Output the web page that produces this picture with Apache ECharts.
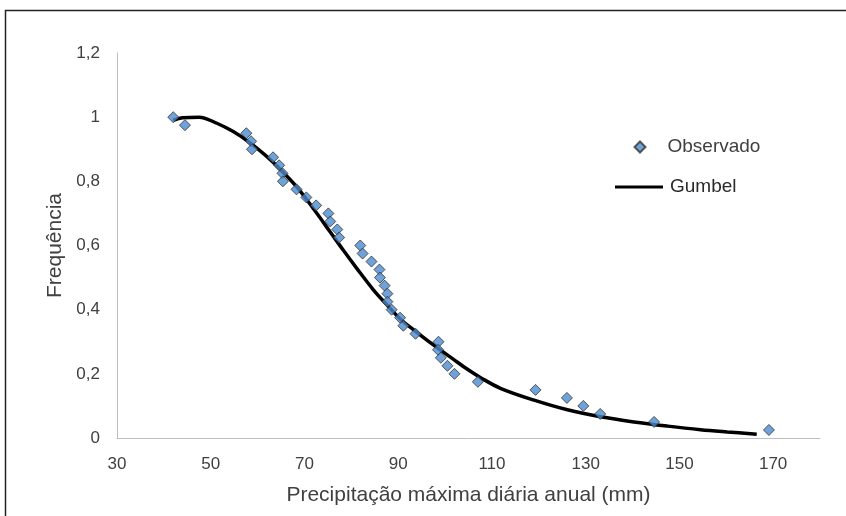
<!DOCTYPE html>
<html>
<head>
<meta charset="utf-8">
<script src="https://cdn.jsdelivr.net/npm/echarts@6/dist/echarts.min.js"></script>
<style>
  html, body { margin: 0; padding: 0; background: #fff; }
  #chart { width: 846px; height: 516px; }
</style>
</head>
<body>
<div id="chart"></div>
<script>
// Observed annual maximum daily precipitation (mm) and empirical frequency
const obsPrecip = [42.0, 44.5, 57.6, 58.6, 58.8, 63.3, 64.6, 65.3, 65.4, 68.3,
                   70.4, 72.5, 75.1, 75.5, 77.0, 77.4, 81.9, 82.4, 84.3, 86.0,
                   86.1, 87.1, 87.7, 87.7, 88.6, 90.4, 91.1, 93.7, 98.6, 98.5,
                   99.1, 100.5, 102.0, 107.0, 119.3, 126.0, 129.5, 133.1, 144.6, 169.1];
const obsFreq = [1.0, 0.975, 0.95, 0.925, 0.9, 0.875, 0.85, 0.825, 0.8, 0.775,
                 0.75, 0.725, 0.7, 0.675, 0.65, 0.625, 0.6, 0.575, 0.55, 0.525,
                 0.5, 0.475, 0.45, 0.425, 0.4, 0.375, 0.35, 0.325, 0.3, 0.275,
                 0.25, 0.225, 0.2, 0.175, 0.15, 0.125, 0.1, 0.075, 0.05, 0.025];
// Gumbel fitted curve
const gumX = [42.0, 44.0, 47.5, 51.3, 54.8, 58.4, 62.0, 64.8, 68.4, 72.0, 75.5,
              78.3, 81.2, 84.7, 87.6, 90.5, 93.3, 97.5, 101.8, 104.7, 107.6, 111.8,
              119.0, 126.1, 133.2, 140.3, 147.5, 154.5, 160.2, 166.5];
const gumY = [0.99, 0.998, 1.0, 0.981, 0.955, 0.92, 0.877, 0.838, 0.782, 0.713, 0.642,
              0.585, 0.528, 0.462, 0.415, 0.37, 0.337, 0.29, 0.245, 0.215, 0.188, 0.155,
              0.118, 0.088, 0.066, 0.05, 0.037, 0.026, 0.019, 0.012];
const yTicks = ['0', '0,2', '0,4', '0,6', '0,8', '1', '1,2'];

const FONT = 'Liberation Sans';
const TXT = '#404040';

const chart = echarts.init(document.getElementById('chart'), null, { renderer: 'canvas' });
chart.setOption({
  animation: false,
  backgroundColor: '#fff',
  textStyle: { fontFamily: FONT },
  graphic: [{
    type: 'rect',
    shape: { x: 5.5, y: 10.5, width: 860, height: 530 },
    style: { fill: 'none', stroke: '#222', lineWidth: 1.5 },
    silent: true, z: -1
  }],
  grid: { left: 117, right: 26, top: 53, bottom: 78, containLabel: false },
  legend: [{
    data: [{ name: 'Observado', icon: 'diamond' }],
    left: 628.5, top: 132.5, itemWidth: 11, itemHeight: 11,
    textStyle: { fontFamily: FONT, fontSize: 19, color: TXT, padding: [0, 0, 0, 17] }
  }, {
    data: [{ name: 'Gumbel' }],
    left: 610, top: 172.5, itemWidth: 48, itemHeight: 3, icon: 'rect',
    textStyle: { fontFamily: FONT, fontSize: 19, color: '#2a2a2a', padding: [0, 0, 0, 2] }
  }],
  xAxis: {
    type: 'value', min: 30, max: 180, interval: 20,
    name: 'Precipitação máxima diária anual (mm)',
    nameLocation: 'middle', nameGap: 47,
    nameTextStyle: { fontFamily: FONT, fontSize: 21, color: TXT },
    axisLine: { show: true, lineStyle: { color: '#bfbfbf', width: 1 } },
    axisTick: { show: false },
    splitLine: { show: false },
    axisLabel: { fontFamily: FONT, fontSize: 17, color: TXT, margin: 18, showMaxLabel: false }
  },
  yAxis: {
    type: 'value', min: 0, max: 1.2, interval: 0.2,
    name: 'Frequência', nameLocation: 'middle', nameGap: 51,
    nameTextStyle: { fontFamily: FONT, fontSize: 21, color: TXT },
    axisLine: { show: true, lineStyle: { color: '#bfbfbf', width: 1 } },
    axisTick: { show: false },
    splitLine: { show: false },
    axisLabel: {
      fontFamily: FONT, fontSize: 17, color: TXT, margin: 17,
      formatter: (v) => yTicks[Math.round(v / 0.2)]
    }
  },
  series: [{
    name: 'Gumbel', type: 'line', smooth: 0.35,
    data: gumX.map((x, i) => [x, gumY[i]]),
    symbol: 'none',
    lineStyle: { color: '#000', width: 3.5 },
    itemStyle: { color: '#000' },
    z: 2
  }, {
    name: 'Observado', type: 'scatter',
    data: obsPrecip.map((x, i) => [x, obsFreq[i]]),
    symbol: 'diamond', symbolSize: 11,
    itemStyle: { color: '#4a8bcf', borderColor: '#333', borderWidth: 1 },
    z: 3
  }]
});
</script>
</body>
</html>
